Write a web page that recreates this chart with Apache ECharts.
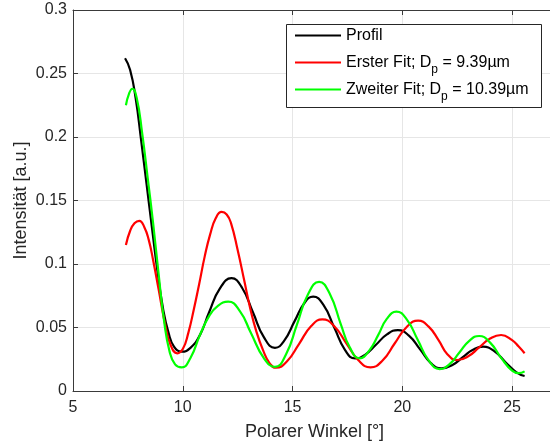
<!DOCTYPE html>
<html>
<head>
<meta charset="utf-8">
<script src="https://cdn.jsdelivr.net/npm/echarts@6/dist/echarts.min.js"></script>
<style>
html,body{margin:0;padding:0;background:#fff;}
#chart{width:550px;height:446px;}
</style>
</head>
<body>
<div id="chart"></div>
<script>
// ---- data ----
const seriesNames = ['Profil', 'Erster Fit; Dp = 9.39µm', 'Zweiter Fit; Dp = 10.39µm'];
const legendLabels = ['Profil', 'Erster Fit; D{s|p} = 9.39µm', 'Zweiter Fit; D{s|p} = 10.39µm'];
const xTicks = [5, 10, 15, 20, 25];
const yTicks = [0, 0.05, 0.1, 0.15, 0.2, 0.25, 0.3];
const xAxisTitle = 'Polarer Winkel [°]';
const yAxisTitle = 'Intensität [a.u.]';

const profil = [[7.37,0.262],[7.6,0.253],[7.85,0.231],[8.1,0.198],[8.35,0.163],[8.6,0.128],[8.85,0.094],[9.1,0.065],[9.35,0.046],[9.6,0.035],[9.95,0.031],[10.35,0.034],[10.78,0.044],[11.2,0.062],[11.7,0.081],[12.22,0.0888],[12.7,0.0813],[13.2,0.0618],[13.7,0.0422],[14.2,0.034],[14.6,0.039],[15.1,0.0552],[15.55,0.0695],[15.94,0.0743],[16.4,0.068],[16.9,0.050],[17.4,0.032],[17.85,0.0257],[18.3,0.0285],[18.8,0.0364],[19.3,0.0446],[19.8,0.048],[20.3,0.0436],[20.8,0.033],[21.3,0.022],[21.78,0.0178],[22.3,0.0207],[22.8,0.0273],[23.2,0.0323],[23.68,0.0349],[24.2,0.0312],[24.7,0.0227],[25.2,0.0147],[25.57,0.0118]];

const ersterFit = [[7.41,0.115],[7.6,0.126],[7.8,0.132],[8.02,0.134],[8.25,0.129],[8.45,0.119],[8.65,0.103],[8.9,0.080],[9.19,0.053],[9.45,0.036],[9.75,0.0297],[10.0,0.033],[10.25,0.0456],[10.5,0.064],[10.75,0.0845],[11.0,0.106],[11.25,0.1235],[11.5,0.136],[11.77,0.141],[12.0,0.139],[12.2,0.132],[12.5,0.111],[12.8,0.087],[13.06,0.066],[13.35,0.047],[13.66,0.032],[13.95,0.022],[14.25,0.0183],[14.75,0.0234],[15.3,0.0372],[15.85,0.0511],[16.36,0.0564],[16.9,0.051],[17.45,0.0376],[18.0,0.0242],[18.55,0.0186],[19.1,0.024],[19.65,0.0374],[20.2,0.0504],[20.72,0.0554],[21.2,0.0507],[21.65,0.0401],[22.05,0.029],[22.5,0.0244],[23.0,0.0273],[23.5,0.0343],[24.0,0.0413],[24.5,0.0441],[25.0,0.040],[25.3,0.035],[25.57,0.0297]];

const zweiterFit = [[7.41,0.225],[7.55,0.234],[7.7,0.238],[7.9,0.231],[8.15,0.203],[8.4,0.168],[8.65,0.132],[8.9,0.092],[9.15,0.055],[9.4,0.031],[9.65,0.021],[9.95,0.0186],[10.35,0.026],[10.78,0.044],[11.2,0.059],[11.6,0.067],[12.07,0.0703],[12.6,0.0629],[13.1,0.0459],[13.7,0.0257],[14.2,0.019],[14.7,0.0287],[15.2,0.0522],[15.7,0.0759],[16.21,0.086],[16.7,0.0763],[17.2,0.0525],[17.6,0.0346],[18.06,0.0257],[18.5,0.032],[18.9,0.044],[19.3,0.057],[19.73,0.0625],[20.2,0.0564],[20.7,0.0404],[21.2,0.0241],[21.7,0.0173],[22.15,0.0211],[22.6,0.0303],[23.05,0.0395],[23.5,0.0433],[24.0,0.0381],[24.5,0.0261],[25.0,0.016],[25.3,0.014],[25.57,0.0155]];

const colors = ['#000000', '#ff0000', '#00ff00'];
const seriesData = [profil, ersterFit, zweiterFit];

// ---- chart ----
const FONT = '"Liberation Sans", Arial, Helvetica, sans-serif';
const AXIS_COLOR = '#3a3a3a';
const TEXT_COLOR = '#262626';
const chart = echarts.init(document.getElementById('chart'), null, {renderer: 'canvas'});

const labelMap = {};
seriesNames.forEach((n, i) => { labelMap[n] = legendLabels[i]; });

const xMin = xTicks[0], xMax = 27, xInt = xTicks[1] - xTicks[0];
const yMin = yTicks[0], yMax = yTicks[yTicks.length - 1], yInt = yTicks[1] - yTicks[0];

const option = {
  animation: false,
  backgroundColor: '#ffffff',
  grid: {left: 73, top: 10, right: -6, bottom: 55, containLabel: false, outerBoundsMode: 'none'},
  xAxis: [{
    type: 'value', min: xMin, max: xMax, interval: xInt,
    name: xAxisTitle, nameLocation: 'middle', nameGap: 32, nameMoveOverlap: false,
    nameTextStyle: {fontFamily: FONT, fontSize: 18, color: TEXT_COLOR},
    axisLine: {show: true, onZero: false, lineStyle: {color: AXIS_COLOR, width: 1}},
    axisTick: {show: true, inside: true, length: 5, lineStyle: {color: AXIS_COLOR}},
    axisLabel: {fontFamily: FONT, fontSize: 16, color: TEXT_COLOR, margin: 9, showMaxLabel: false},
    splitLine: {show: true, lineStyle: {color: '#e6e6e6', width: 1}}
  }, {
    type: 'value', position: 'top', min: xMin, max: xMax, interval: xInt,
    axisLine: {show: true, onZero: false, lineStyle: {color: AXIS_COLOR, width: 1}},
    axisTick: {show: true, inside: true, length: 5, lineStyle: {color: AXIS_COLOR}},
    axisLabel: {show: false},
    splitLine: {show: false}
  }],
  yAxis: [{
    type: 'value', min: yMin, max: yMax, interval: yInt,
    name: yAxisTitle, nameLocation: 'middle', nameGap: 43, nameMoveOverlap: false,
    nameTextStyle: {fontFamily: FONT, fontSize: 18, color: TEXT_COLOR},
    axisLine: {show: true, onZero: false, lineStyle: {color: AXIS_COLOR, width: 1}},
    axisTick: {show: true, inside: true, length: 5, lineStyle: {color: AXIS_COLOR}},
    axisLabel: {fontFamily: FONT, fontSize: 16, color: TEXT_COLOR, margin: 6},
    splitLine: {show: true, lineStyle: {color: '#e6e6e6', width: 1}}
  }],
  graphic: [{
    type: 'rect', z: 50, silent: true,
    shape: {x: 286.5, y: 24.5, width: 255, height: 83},
    style: {fill: '#ffffff', stroke: '#262626', lineWidth: 1}
  }],
  legend: {
    z: 60, zlevel: 0,
    orient: 'vertical', left: 286, top: 22,
    padding: [0, 0, 0, 9], itemGap: 0,
    itemWidth: 46, itemHeight: 2, icon: 'rect',
    data: seriesNames,
    formatter: name => labelMap[name],
    textStyle: {
      fontFamily: FONT, fontSize: 16, color: '#000', lineHeight: 27,
      rich: {
        s: {fontFamily: FONT, fontSize: 12, color: '#000', lineHeight: 12, padding: [15, 0, 0, 0], verticalAlign: 'bottom'}
      }
    }
  },
  series: seriesNames.map((n, i) => ({
    name: n, type: 'line', data: seriesData[i],
    xAxisIndex: 0, yAxisIndex: 0,
    showSymbol: false, smooth: 0.5, clip: true,
    lineStyle: {color: colors[i], width: 2.2},
    itemStyle: {color: colors[i]},
    z: 2 + i
  }))
};
chart.setOption(option);
</script>
</body>
</html>
